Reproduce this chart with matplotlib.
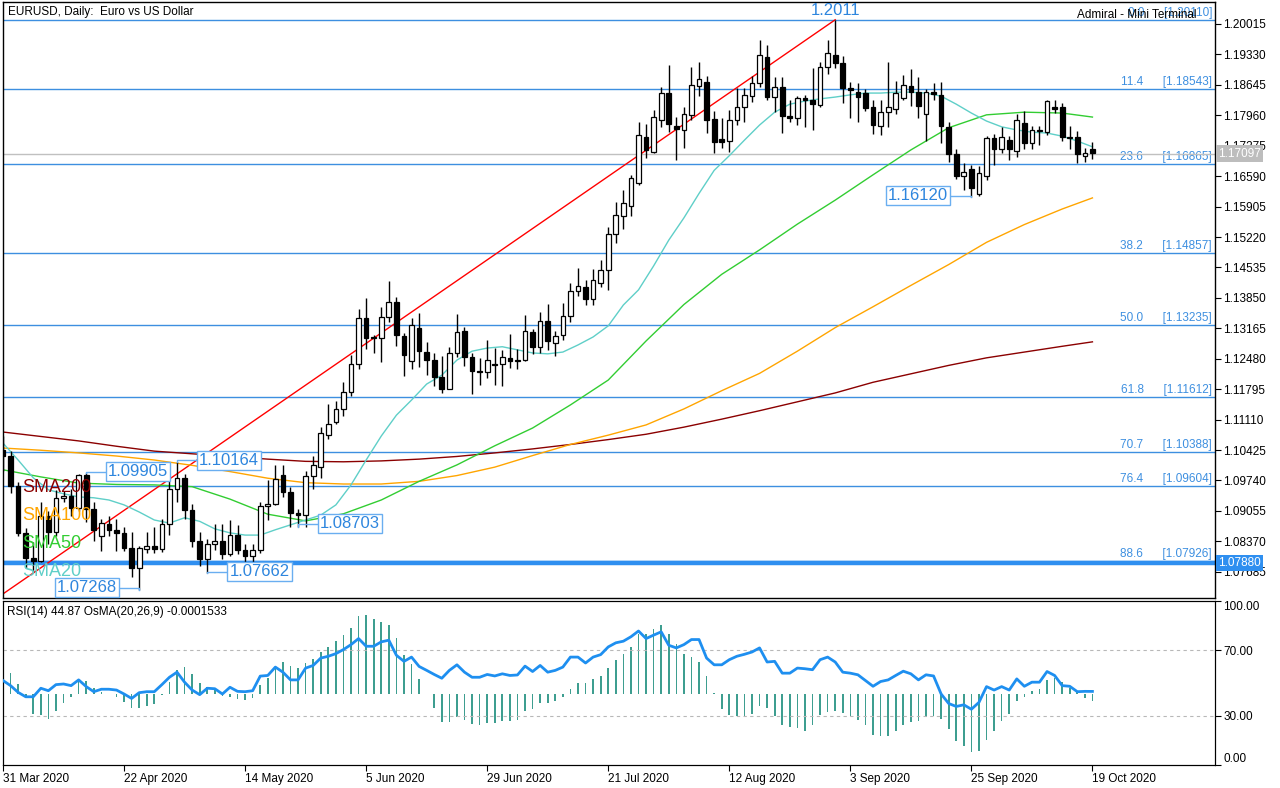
import numpy as np
import matplotlib
matplotlib.use('Agg')
import matplotlib.pyplot as plt

plt.rcParams['font.family'] = ['Liberation Sans', 'DejaVu Sans']

# Etiquetas de fechas (una cada 16 velas)
dates = ['31 Mar 2020', '22 Apr 2020', '14 May 2020', '5 Jun 2020', '29 Jun 2020',
         '21 Jul 2020', '12 Aug 2020', '3 Sep 2020', '25 Sep 2020', '19 Oct 2020']
date_pos = [0, 16, 32, 48, 64, 80, 96, 112, 128, 144]

# Velas diarias EURUSD (O, H, L, C)
opens = [1.1042, 1.1030, 1.0962, 1.0856, 1.0800, 1.0793, 1.0893, 1.0857, 1.0935, 1.0940,
         1.0913, 1.0986, 1.0910, 1.0850, 1.0875, 1.0863, 1.0856, 1.0823, 1.0776, 1.0820,
         1.0827, 1.0820, 1.0877, 1.0955, 1.0980, 1.0908, 1.0838, 1.0797, 1.0832, 1.0838,
         1.0808, 1.0851, 1.0818, 1.0805, 1.0818, 1.0916, 1.0922, 1.0986, 1.0948, 1.0900,
         1.0896, 1.0983, 1.1005, 1.1077, 1.1105, 1.1134, 1.1172, 1.1236, 1.1340, 1.1298,
         1.1294, 1.1341, 1.1376, 1.1299, 1.1242, 1.1317, 1.1263, 1.1245, 1.1207, 1.1180,
         1.1262, 1.1310, 1.1252, 1.1221, 1.1218, 1.1236, 1.1236, 1.1250, 1.1242, 1.1245,
         1.1308, 1.1274, 1.1333, 1.1283, 1.1302, 1.1344, 1.1400, 1.1409, 1.1383, 1.1418,
         1.1447, 1.1529, 1.1569, 1.1592, 1.1643, 1.1747, 1.1714, 1.1785, 1.1846, 1.1772,
         1.1763, 1.1797, 1.1862, 1.1871, 1.1788, 1.1742, 1.1738, 1.1785, 1.1815, 1.1840,
         1.1869, 1.1927, 1.1838, 1.1860, 1.1795, 1.1790, 1.1835, 1.1830, 1.1819, 1.1905,
         1.1932, 1.1914, 1.1857, 1.1849, 1.1846, 1.1815, 1.1772, 1.1803, 1.1810, 1.1835,
         1.1862, 1.1849, 1.1800, 1.1849, 1.1842, 1.1770, 1.1709, 1.1660, 1.1675, 1.1619,
         1.1659, 1.1745, 1.1720, 1.1740, 1.1715, 1.1778, 1.1733, 1.1760, 1.1758, 1.1815,
         1.1815, 1.1745, 1.1747, 1.1705, 1.1720]
highs = [1.1075, 1.1040, 1.0970, 1.0868, 1.0835, 1.0925, 1.0905, 1.0952, 1.0950, 1.0955,
         1.0989, 1.0991, 1.0925, 1.0888, 1.0893, 1.0888, 1.0869, 1.0858, 1.0826, 1.0857,
         1.0870, 1.0888, 1.0973, 1.1016, 1.0988, 1.0922, 1.0857, 1.0843, 1.0875, 1.0877,
         1.0885, 1.0874, 1.0830, 1.0831, 1.0926, 1.0975, 1.1008, 1.1009, 1.0960, 1.0910,
         1.0996, 1.1029, 1.1095, 1.1147, 1.1153, 1.1195, 1.1257, 1.1361, 1.1384, 1.1301,
         1.1364, 1.1422, 1.1388, 1.1305, 1.1340, 1.1352, 1.1285, 1.1262, 1.1255, 1.1275,
         1.1349, 1.1320, 1.1260, 1.1250, 1.1290, 1.1272, 1.1267, 1.1303, 1.1270, 1.1346,
         1.1314, 1.1353, 1.1372, 1.1310, 1.1374, 1.1419, 1.1452, 1.1426, 1.1450, 1.1470,
         1.1544, 1.1601, 1.1628, 1.1661, 1.1781, 1.1776, 1.1808, 1.1860, 1.1909, 1.1792,
         1.1815, 1.1905, 1.1916, 1.1885, 1.1805, 1.1790, 1.1808, 1.1857, 1.1858, 1.1885,
         1.1966, 1.1954, 1.1882, 1.1882, 1.1830, 1.1840, 1.1842, 1.1903, 1.1916, 1.1965,
         1.2011, 1.1929, 1.1871, 1.1869, 1.1856, 1.1830, 1.1830, 1.1916, 1.1873, 1.1887,
         1.1900, 1.1882, 1.1855, 1.1869, 1.1871, 1.1782, 1.1720, 1.1688, 1.1685, 1.1682,
         1.1750, 1.1754, 1.1770, 1.1750, 1.1799, 1.1806, 1.1772, 1.1772, 1.1831, 1.1830,
         1.1823, 1.1772, 1.1760, 1.1722, 1.1735]
lows = [1.0995, 1.0945, 1.0850, 1.0778, 1.0768, 1.0790, 1.0830, 1.0848, 1.0925, 1.0895,
        1.0905, 1.0880, 1.0838, 1.0815, 1.0850, 1.0815, 1.0815, 1.0757, 1.0727, 1.0810,
        1.0810, 1.0814, 1.0851, 1.0925, 1.0887, 1.0825, 1.0782, 1.0766, 1.0817, 1.0797,
        1.0804, 1.0808, 1.0774, 1.0786, 1.0810, 1.0885, 1.0918, 1.0937, 1.0870, 1.0870,
        1.0870, 1.0955, 1.0980, 1.1067, 1.1100, 1.1118, 1.1165, 1.1225, 1.1270, 1.1260,
        1.1240, 1.1330, 1.1276, 1.1210, 1.1225, 1.1229, 1.1212, 1.1186, 1.1170, 1.1180,
        1.1252, 1.1232, 1.1168, 1.1188, 1.1205, 1.1188, 1.1186, 1.1228, 1.1225, 1.1243,
        1.1258, 1.1260, 1.1268, 1.1255, 1.1290, 1.1330, 1.1390, 1.1370, 1.1370, 1.1410,
        1.1403, 1.1508, 1.1540, 1.1570, 1.1640, 1.1700, 1.1710, 1.1770, 1.1759, 1.1695,
        1.1722, 1.1785, 1.1840, 1.1755, 1.1710, 1.1723, 1.1713, 1.1775, 1.1781, 1.1825,
        1.1860, 1.1830, 1.1803, 1.1756, 1.1780, 1.1775, 1.1770, 1.1763, 1.1815, 1.1890,
        1.1903, 1.1823, 1.1790, 1.1781, 1.1805, 1.1753, 1.1752, 1.1770, 1.1800, 1.1830,
        1.1818, 1.1790, 1.1737, 1.1831, 1.1733, 1.1690, 1.1652, 1.1628, 1.1612, 1.1615,
        1.1650, 1.1684, 1.1712, 1.1695, 1.1703, 1.1720, 1.1720, 1.1730, 1.1752, 1.1802,
        1.1737, 1.1720, 1.1689, 1.1690, 1.1697]
closes = [1.1030, 1.0962, 1.0856, 1.0800, 1.0793, 1.0893, 1.0857, 1.0935, 1.0940, 1.0913,
          1.0986, 1.0910, 1.0862, 1.0878, 1.0863, 1.0856, 1.0823, 1.0776, 1.0821, 1.0827,
          1.0820, 1.0877, 1.0955, 1.0980, 1.0908, 1.0838, 1.0797, 1.0832, 1.0838, 1.0808,
          1.0851, 1.0818, 1.0805, 1.0818, 1.0916, 1.0922, 1.0977, 1.0948, 1.0900, 1.0896,
          1.0983, 1.1008, 1.1080, 1.1101, 1.1134, 1.1172, 1.1236, 1.1340, 1.1294, 1.1295,
          1.1341, 1.1376, 1.1301, 1.1256, 1.1323, 1.1266, 1.1245, 1.1207, 1.1180, 1.1262,
          1.1308, 1.1252, 1.1221, 1.1218, 1.1245, 1.1234, 1.1252, 1.1242, 1.1246, 1.1310,
          1.1274, 1.1333, 1.1287, 1.1300, 1.1344, 1.1400, 1.1411, 1.1383, 1.1425, 1.1447,
          1.1529, 1.1572, 1.1598, 1.1655, 1.1751, 1.1718, 1.1792, 1.1846, 1.1777, 1.1765,
          1.1800, 1.1864, 1.1878, 1.1786, 1.1736, 1.1736, 1.1785, 1.1815, 1.1842, 1.1869,
          1.1932, 1.1837, 1.1860, 1.1795, 1.1790, 1.1835, 1.1831, 1.1822, 1.1905, 1.1936,
          1.1913, 1.1857, 1.1853, 1.1837, 1.1812, 1.1774, 1.1803, 1.1815, 1.1846, 1.1864,
          1.1849, 1.1817, 1.1849, 1.1845, 1.1772, 1.1709, 1.1659, 1.1668, 1.1632, 1.1666,
          1.1745, 1.1720, 1.1747, 1.1720, 1.1785, 1.1733, 1.1762, 1.1763, 1.1829, 1.1810,
          1.1747, 1.1746, 1.1709, 1.1712, 1.1710]

# Medias moviles (indice de vela, valor)
sma20_idx = list(range(0, 145, 2))
sma20 = [1.1058, 1.1020, 1.0980, 1.0953, 1.0944, 1.0937, 1.0935, 1.0930, 1.0919, 1.0903,
         1.0885, 1.0878, 1.0890, 1.0882, 1.0865, 1.0856, 1.0851, 1.0851, 1.0863, 1.0874,
         1.0885, 1.0896, 1.0919, 1.0964, 1.1020, 1.1074, 1.1121, 1.1155, 1.1191, 1.1211,
         1.1245, 1.1265, 1.1272, 1.1275, 1.1268, 1.1261, 1.1259, 1.1263, 1.1279, 1.1297,
         1.1322, 1.1369, 1.1403, 1.1457, 1.1515, 1.1565, 1.1620, 1.1672, 1.1705, 1.1740,
         1.1774, 1.1803, 1.1821, 1.1828, 1.1833, 1.1837, 1.1842, 1.1846, 1.1846, 1.1848,
         1.1848, 1.1846, 1.1839, 1.1821, 1.1801, 1.1783, 1.1770, 1.1763, 1.1758, 1.1756,
         1.1749, 1.1738, 1.1725]
sma50_idx = [0, 5, 10, 15, 20, 25, 30, 35, 40, 45, 50, 55, 60, 65, 70, 75, 80, 85, 90, 95,
             100, 105, 110, 115, 120, 125, 130, 135, 140, 144]
sma50 = [1.0998, 1.0982, 1.0968, 1.0965, 1.0964, 1.0960, 1.0932, 1.0898, 1.0883, 1.0899,
         1.0930, 1.0972, 1.1009, 1.1052, 1.1092, 1.1144, 1.1200, 1.1288, 1.1370, 1.1438,
         1.1493, 1.1551, 1.1605, 1.1662, 1.1718, 1.1768, 1.1797, 1.1803, 1.1801, 1.1792]
sma100_idx = [0, 5, 10, 15, 20, 25, 30, 35, 40, 45, 50, 55, 60, 65, 70, 75, 80, 85, 90, 95,
              100, 105, 110, 115, 120, 125, 130, 135, 140, 144]
sma100 = [1.1047, 1.1042, 1.1036, 1.1029, 1.1020, 1.1008, 1.0994, 1.0979, 1.0969, 1.0966,
          1.0966, 1.0972, 1.0985, 1.1004, 1.1030, 1.1055, 1.1076, 1.1099, 1.1135, 1.1176,
          1.1215, 1.1265, 1.1318, 1.1365, 1.1413, 1.1460, 1.1510, 1.1550, 1.1585, 1.1610]
sma200_idx = [0, 5, 10, 15, 20, 25, 30, 35, 40, 45, 50, 55, 60, 65, 70, 75, 80, 85, 90, 95,
              100, 105, 110, 115, 120, 125, 130, 135, 140, 144]
sma200 = [1.1083, 1.1073, 1.1063, 1.1051, 1.1040, 1.1034, 1.1028, 1.1022, 1.1017, 1.1016,
          1.1018, 1.1022, 1.1028, 1.1036, 1.1045, 1.1055, 1.1066, 1.1078, 1.1094, 1.1112,
          1.1131, 1.1151, 1.1171, 1.1195, 1.1214, 1.1233, 1.1250, 1.1263, 1.1276, 1.1286]

# RSI(14) y OsMA(20,26,9)
rsi = [51.5, 48.4, 44.3, 41.6, 41.6, 46.8, 45.3, 49.0, 49.4, 48.4,
       51.9, 47.8, 44.7, 46.2, 46.2, 45.7, 43.3, 40.6, 44.1, 44.7,
       44.7, 49.0, 53.5, 56.6, 50.5, 45.7, 42.9, 46.8, 46.5, 43.3,
       47.4, 44.9, 44.7, 45.3, 54.2, 54.6, 59.7, 56.6, 51.9, 51.9,
       59.1, 60.7, 65.2, 66.3, 67.9, 70.4, 73.4, 77.1, 72.4, 72.4,
       75.1, 76.1, 66.9, 63.2, 65.8, 60.1, 57.7, 55.2, 52.9, 57.7,
       61.1, 56.6, 53.5, 53.5, 55.2, 54.3, 55.6, 54.6, 54.9, 60.3,
       57.0, 60.7, 56.6, 57.7, 59.7, 65.8, 65.8, 62.2, 65.8, 67.3,
       72.0, 74.5, 75.5, 78.2, 81.7, 77.1, 79.2, 81.2, 73.0, 71.4,
       73.4, 76.5, 76.5, 65.2, 61.1, 61.1, 64.2, 66.3, 67.5, 68.9,
       71.4, 62.8, 63.2, 56.0, 56.0, 59.1, 58.7, 58.1, 64.2, 65.8,
       62.8, 56.6, 56.0, 55.0, 51.5, 48.0, 50.9, 51.9, 54.6, 57.2,
       55.6, 51.9, 55.0, 54.3, 43.3, 37.5, 35.7, 36.7, 34.0, 38.2,
       47.8, 45.7, 47.8, 45.7, 52.5, 48.0, 50.5, 50.5, 57.0, 54.6,
       48.4, 48.0, 44.7, 44.9, 44.87]
osma = [0.00045, 0.00041, 0.00019, -0.00008, -0.00040, -0.00043, -0.00050, -0.00035, -0.00019, -0.00007,
        0.00026, 0.00024, 0.00011, 0.00004, -0.00001, -0.00007, -0.00017, -0.00029, -0.00029, -0.00025,
        -0.00021, -0.00003, 0.00023, 0.00046, 0.00053, 0.00039, 0.00021, 0.00013, 0.00008, -0.00005,
        -0.00007, -0.00010, -0.00012, -0.00009, 0.00017, 0.00031, 0.00051, 0.00063, 0.00055, 0.00050,
        0.00061, 0.00068, 0.00083, 0.00093, 0.00105, 0.00116, 0.00131, 0.00155, 0.00156, 0.00148,
        0.00143, 0.00137, 0.00110, 0.00077, 0.00058, 0.00028, -0.00001, -0.00029, -0.00057, -0.00057,
        -0.00047, -0.00052, -0.00061, -0.00063, -0.00059, -0.00059, -0.00054, -0.00054, -0.00052, -0.00035,
        -0.00030, -0.00019, -0.00019, -0.00015, -0.00007, 0.00010, 0.00021, 0.00021, 0.00029, 0.00035,
        0.00051, 0.00067, 0.00078, 0.00093, 0.00119, 0.00119, 0.00129, 0.00137, 0.00119, 0.00098,
        0.00079, 0.00073, 0.00063, 0.00035, 0.00001, -0.00031, -0.00043, -0.00045, -0.00045, -0.00041,
        -0.00025, -0.00029, -0.00045, -0.00063, -0.00067, -0.00069, -0.00074, -0.00062, -0.00043, -0.00037,
        -0.00035, -0.00039, -0.00045, -0.00052, -0.00063, -0.00082, -0.00085, -0.00085, -0.00075, -0.00063,
        -0.00057, -0.00055, -0.00047, -0.00045, -0.00050, -0.00071, -0.00094, -0.00105, -0.00117, -0.00114,
        -0.00092, -0.00075, -0.00054, -0.00041, -0.00015, -0.00007, 0.00005, 0.00010, 0.00026, 0.00031,
        0.00023, 0.00011, 0.00003, -0.00009, -0.0001533]

# Niveles de Fibonacci
fib_pct = ['0.0', '11.4', '23.6', '38.2', '50.0', '61.8', '70.7', '76.4', '88.6']
fib_val = [1.20110, 1.18543, 1.16865, 1.14857, 1.13235, 1.11612, 1.10388, 1.09604, 1.07926]

# Linea de tendencia (desde el minimo de marzo hasta el maximo 1.2011)
trend_idx = [-7, 110]
trend_val = [1.06364, 1.20110]

# Etiquetas de precio: (vela, precio marcado)
marks = [(11, 1.09905), (23, 1.10164), (18, 1.07268), (27, 1.07662), (39, 1.08703), (128, 1.16120)]
support = 1.07880
last_price = 1.17097

price_ticks = [1.07685, 1.08370, 1.09055, 1.09740, 1.10425, 1.11110, 1.11795, 1.12480,
               1.13165, 1.13850, 1.14535, 1.15220, 1.15905, 1.16590, 1.17275, 1.17960,
               1.18645, 1.19330, 1.20015]

FIB = '#3d8fe0'
LBL = '#2e86de'
W, H = 1280, 788


def box(x0, y0, x1, y1):
    return [x0 / W, 1 - y1 / H, (x1 - x0) / W, (y1 - y0) / H]


fig = plt.figure(figsize=(12.8, 7.88), dpi=100)
ax = fig.add_axes(box(3, 2, 1215, 598))
ax2 = fig.add_axes(box(3, 601, 1215, 765), sharex=ax)

idx = np.arange(len(closes))
o = np.array(opens)
c = np.array(closes)
up = c >= o

# Niveles y lineas
for pct, val in zip(fib_pct, fib_val):
    ax.axhline(val, color=FIB, lw=1, zorder=1)
    ax.annotate(f'{pct}      [{val:.5f}]', xy=(1, val), xycoords=('axes fraction', 'data'),
                xytext=(-3, 7), textcoords='offset pixels', ha='right', va='center',
                color=FIB, fontsize=8.5, zorder=1)
ax.axhline(support, color='#2f8ff0', lw=3.2, zorder=1)
ax.axhline(last_price, color='#c0c0c0', lw=1, zorder=1)
ax.plot(trend_idx, trend_val, color='red', lw=1, zorder=2)

# Medias moviles
ax.plot(sma200_idx, sma200, color='#8b0000', lw=1, zorder=2)
ax.plot(sma100_idx, sma100, color='#ffa500', lw=1, zorder=2)
ax.plot(sma50_idx, sma50, color='#32cd32', lw=1, zorder=2)
ax.plot(sma20_idx, sma20, color='#5fcfc8', lw=1, zorder=2)

# Velas
ax.vlines(idx, lows, highs, color='black', lw=1, zorder=3)
ax.bar(idx[up], (c - o)[up], bottom=o[up], width=0.62, color='white',
       edgecolor='black', lw=0.9, zorder=4)
ax.bar(idx[~up], (o - c)[~up], bottom=c[~up], width=0.62, color='black',
       edgecolor='black', lw=0.9, zorder=4)

# Etiquetas de precio con recuadro
box_pos = [(17.8, 1.0994), (29.9, 1.1020), (11.1, 1.0732), (33.9, 1.0768), (45.8, 1.0876), (120.9, 1.1615)]
for (bi, bp), (tx, ty) in zip(marks, box_pos):
    ax.text(tx, ty, f'{bp:.5f}', ha='center', va='center', color=LBL, fontsize=12, zorder=6,
            bbox=dict(boxstyle='square,pad=0.12', fc='white', ec='#6aaef0', lw=1))
    ax.plot([bi, bi, tx], [bp, ty, ty], color='#6aaef0', lw=1, zorder=5)
ax.text(110, 1.2031, '1.2011', ha='center', va='center', color=LBL, fontsize=12, zorder=6)

# Textos SMA
for txt, col, yy in [('SMA200', '#8b0000', 487), ('SMA100', '#ffa500', 515),
                     ('SMA50', '#32cd32', 543), ('SMA20', '#5fcfc8', 572)]:
    fig.text(22 / W, 1 - yy / H, txt, color=col, fontsize=13, va='center', zorder=7)

ax.set_xlim(0.13, 160.2)
ax.set_ylim(1.07094, 1.20510)
ax.yaxis.tick_right()
ax.set_yticks(price_ticks)
ax.set_yticklabels([f'{t:.5f}' for t in price_ticks])
ax.tick_params(axis='y', length=4, width=0.8, labelsize=8.5, pad=2)
ax.tick_params(axis='x', bottom=False, labelbottom=False)
for s in ax.spines.values():
    s.set_color('black')
    s.set_linewidth(1)

# Cajas del eje de precios
ax.annotate(f'{last_price:.5f}', xy=(1, last_price), xycoords=('axes fraction', 'data'),
            xytext=(3, 0), textcoords='offset pixels', ha='left', va='center', color='white',
            fontsize=8.5, annotation_clip=False, zorder=8,
            bbox=dict(boxstyle='square,pad=0.2', fc='#bdbdbd', ec='none'))
ax.annotate(f'{support:.5f}', xy=(1, support), xycoords=('axes fraction', 'data'),
            xytext=(3, 0), textcoords='offset pixels', ha='left', va='center', color='white',
            fontsize=8.5, annotation_clip=False, zorder=8,
            bbox=dict(boxstyle='square,pad=0.2', fc='#2f8ff0', ec='none'))

fig.text(8 / W, 1 - 12 / H, 'EURUSD, Daily:  Euro vs US Dollar', fontsize=8.5, va='center')
fig.text(1077 / W, 1 - 15 / H, 'Admiral - Mini Terminal', fontsize=8.5, va='center', zorder=9)

# Panel inferior: OsMA (histograma) + RSI
ax2.bar(idx, osma, width=0.22, color='#3e9e90', zorder=2)
ax2.set_ylim(-0.00142, 0.00184)
ax3 = ax2.twinx()
ax2.tick_params(axis='y', left=False, labelleft=False, right=False, labelright=False)
ax3.axhline(70, color='#b8b8b8', lw=0.8, ls=(0, (3, 3)), zorder=1)
ax3.axhline(30, color='#b8b8b8', lw=0.8, ls=(0, (3, 3)), zorder=1)
ax3.plot(idx, rsi, color='#1e8ff0', lw=2, zorder=3)
ax3.set_ylim(0, 100)
ax3.set_yticks([0, 30, 70, 100])
ax3.set_yticklabels(['0.00', '30.00', '70.00', '100.00'])
ax3.tick_params(axis='y', length=4, width=0.8, labelsize=8.5, pad=2)
ylabels = ax3.get_yticklabels()
ylabels[0].set_va('bottom')
ylabels[-1].set_va('top')
ax2.text(0.003, 0.93, 'RSI(14) 44.87 OsMA(20,26,9) -0.0001533', transform=ax2.transAxes,
         fontsize=8.5, va='center')

ax2.set_xticks(date_pos)
ax2.set_xticklabels(dates, ha='left')
ax2.tick_params(axis='x', length=4, width=0.8, labelsize=8.5, pad=2)
for s in list(ax2.spines.values()) + list(ax3.spines.values()):
    s.set_color('black')

fig.savefig('out.png', dpi=100)
